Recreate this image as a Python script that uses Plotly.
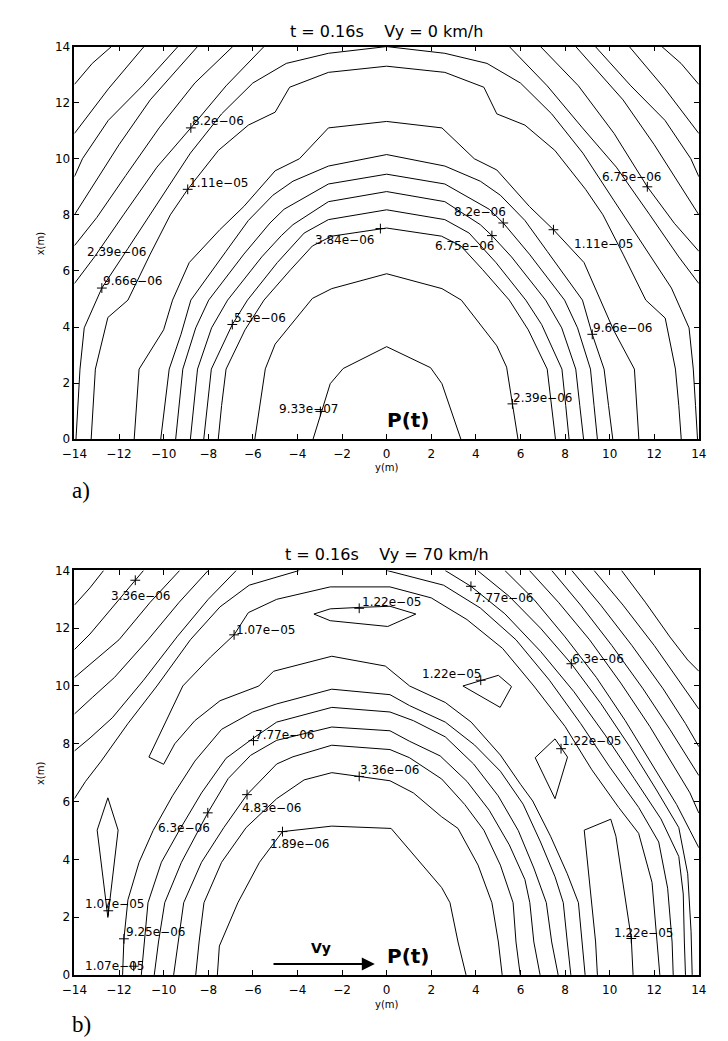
import plotly.graph_objects as go

# ---------------- data (horizontal = y(m), vertical = x(m)) ----------------
x_tick_vals = [-14, -12, -10, -8, -6, -4, -2, 0, 2, 4, 6, 8, 10, 12, 14]
y_tick_vals = [0, 2, 4, 6, 8, 10, 12, 14]

title_top = "t = 0.16s\u00a0\u00a0\u00a0\u00a0Vy = 0 km/h"
title_bot = "t = 0.16s\u00a0\u00a0\u00a0\u00a0Vy = 70 km/h"

# ---- top panel (Vy = 0) contour lines ----
top_a1 = [(-3.30, 0.00), (-2.53, 1.98), (-1.95, 2.52), (0.00, 3.30), (1.97, 2.55), (2.48, 1.98), (3.33, 0.00)]
top_a2 = [(-5.91, 0.00), (-5.44, 2.51), (-5.00, 3.39), (-3.33, 5.02), (-2.46, 5.37), (0.00, 5.90), (2.48, 5.37),
          (3.35, 4.96), (4.94, 3.33), (5.38, 2.57), (5.89, 0.00)]
top_a3 = [(-7.55, 0.00), (-7.40, 1.20), (-7.20, 2.50), (-6.35, 3.90), (-5.50, 4.96), (-4.30, 6.05), (-3.33, 6.89),
          (-2.46, 7.24), (0.00, 7.53), (2.46, 7.24), (3.33, 6.89), (4.30, 6.05), (5.50, 4.96), (6.35, 3.90),
          (7.20, 2.50), (7.40, 1.20), (7.57, 0.00)]
top_a4 = [(-8.20, 0.00), (-8.05, 1.20), (-7.86, 2.50), (-6.92, 4.09), (-6.24, 4.96), (-4.90, 6.30), (-3.70, 7.35),
          (-2.61, 7.83), (0.00, 8.18), (2.61, 7.83), (3.70, 7.35), (4.90, 6.30), (6.24, 4.96), (6.95, 4.09),
          (7.86, 2.50), (8.03, 1.20), (8.18, 0.00)]
top_a5 = [(-8.80, 0.00), (-8.65, 1.20), (-8.48, 2.50), (-7.85, 3.97), (-7.13, 4.96), (-5.60, 6.50), (-4.72, 7.26),
          (-4.20, 7.65), (-2.61, 8.47), (0.00, 8.83), (2.61, 8.47), (4.20, 7.65), (4.72, 7.26), (5.60, 6.50),
          (7.13, 4.96), (7.85, 3.97), (8.48, 2.50), (8.66, 1.20), (8.83, 0.00)]
top_a6 = [(-9.46, 0.00), (-9.30, 1.20), (-9.14, 2.50), (-8.56, 3.97), (-7.98, 4.96), (-6.40, 6.60), (-5.23, 7.71),
          (-4.60, 8.20), (-2.61, 9.10), (0.00, 9.45), (2.61, 9.10), (4.60, 8.20), (5.23, 7.71), (6.40, 6.60),
          (7.98, 4.96), (8.56, 3.97), (9.14, 2.50), (9.30, 1.20), (9.45, 0.00)]
top_a7 = [(-10.13, 0.00), (-9.95, 1.20), (-9.75, 2.50), (-9.22, 3.74), (-8.78, 4.96), (-7.20, 6.70), (-6.20, 7.80),
          (-5.10, 8.70), (-4.20, 9.20), (-2.61, 9.74), (0.00, 10.15), (2.61, 9.74), (4.20, 9.20), (5.10, 8.70),
          (6.20, 7.80), (7.20, 6.70), (8.78, 4.96), (9.22, 3.74), (9.75, 2.50), (9.95, 1.20), (10.14, 0.00)]
top_a8 = [(-11.32, 0.00), (-11.20, 1.20), (-11.10, 2.50), (-10.00, 3.90), (-9.60, 4.96), (-8.85, 6.30),
          (-7.48, 7.47), (-6.40, 8.30), (-5.00, 9.57), (-3.91, 10.00), (-2.61, 11.10), (0.00, 11.33), (2.48, 11.10),
          (3.93, 10.00), (4.94, 9.60), (6.40, 8.30), (7.48, 7.47), (8.85, 6.30), (9.59, 4.96), (10.17, 3.90),
          (11.11, 2.50), (11.20, 1.20), (11.31, 0.00)]
top_a9 = [(-13.25, 0.00), (-13.15, 1.20), (-13.06, 2.50), (-12.50, 4.34), (-11.60, 4.96), (-10.60, 6.60),
          (-9.70, 8.00), (-8.92, 8.91), (-7.54, 10.30), (-6.20, 11.20), (-5.00, 11.66), (-4.35, 12.55),
          (-2.61, 13.08), (0.00, 13.30), (2.61, 13.08), (4.36, 12.55), (4.94, 11.60), (6.20, 11.20), (7.54, 10.30),
          (8.92, 8.91), (9.70, 8.00), (10.60, 6.60), (11.62, 4.96), (12.49, 4.32), (12.95, 2.50), (13.10, 1.20),
          (13.21, 0.00)]
top_a10 = [(-13.93, 0.00), (-13.85, 1.20), (-13.75, 2.50), (-13.56, 3.97), (-12.77, 5.39), (-11.60, 6.80),
           (-10.20, 8.50), (-8.80, 10.20), (-7.40, 11.60), (-6.00, 12.70), (-4.50, 13.40), (-2.61, 13.76),
           (0.00, 14.00), (2.61, 13.76), (4.50, 13.40), (6.00, 12.70), (7.40, 11.60), (8.80, 10.20), (10.20, 8.50),
           (11.60, 6.80), (12.77, 5.39), (13.56, 3.97), (13.75, 2.50), (13.85, 1.20), (13.94, 0.00)]
top_k1 = [(-14.00, 5.55), (-13.10, 6.50), (-11.80, 8.00), (-10.30, 9.70), (-8.78, 11.10), (-7.20, 12.60), (-5.50, 14.00)]
top_k2 = [(-14.00, 6.90), (-13.00, 7.90), (-11.70, 9.40), (-10.20, 11.10), (-8.60, 12.70), (-6.90, 14.00)]
top_k3 = [(-14.00, 8.00), (-13.20, 9.00), (-12.00, 10.50), (-10.60, 12.10), (-9.60, 13.00), (-8.48, 14.00)]
top_k4 = [(-14.00, 9.36), (-13.64, 10.00), (-12.48, 11.37), (-10.95, 12.60), (-9.36, 14.00)]
top_k5 = [(-14.00, 10.90), (-12.48, 12.49), (-10.88, 14.00)]
top_k6 = [(-14.00, 12.65), (-13.20, 13.40), (-12.34, 14.00)]
top_q1 = [(5.50, 14.00), (7.20, 12.60), (8.78, 11.10), (10.30, 9.70), (11.80, 8.00), (13.10, 6.50), (14.00, 5.55)]
top_q2 = [(6.90, 14.00), (8.60, 12.60), (10.20, 10.90), (11.69, 9.00), (12.90, 7.70), (14.00, 6.70)]
top_q3 = [(8.48, 14.00), (9.60, 13.00), (10.60, 12.10), (12.00, 10.50), (13.20, 9.00), (14.00, 8.00)]
top_q4 = [(9.36, 14.00), (10.95, 12.60), (12.48, 11.37), (13.64, 10.00), (14.00, 9.36)]
top_q5 = [(10.88, 14.00), (12.48, 12.49), (14.00, 10.90)]
top_q6 = [(12.34, 14.00), (13.20, 13.40), (14.00, 12.65)]

top_label_text = ["8.2e\u221206", "1.11e\u221205", "6.75e\u221206", "8.2e\u221206", "1.11e\u221205", "2.39e\u221206",
                  "9.66e\u221206", "5.3e\u221206", "3.84e\u221206", "9.33e\u221207", "6.75e\u221206", "9.66e\u221206",
                  "2.39e\u221206"]
top_label_x = [-8.78, -8.92, 9.59, 2.98, 8.35, -13.49, -12.77, -6.89, -3.26, -4.86, 2.11, 9.22, 5.64]
top_label_y = [11.34, 9.12, 9.36, 8.10, 6.97, 6.66, 5.64, 4.32, 7.09, 1.08, 6.89, 3.97, 1.46]
top_plus_x = [-8.78, -8.92, 11.69, 5.23, 7.48, -12.77, -6.92, -0.28, -2.97, 4.72, 9.22, 5.64]
top_plus_y = [11.10, 8.91, 9.00, 7.71, 7.47, 5.39, 4.09, 7.51, 0.99, 7.26, 3.74, 1.26]

# ---- bottom panel (Vy = 70 km/h) contour lines ----
bot_a1 = [(-7.59, 0.00), (-7.50, 1.00), (-6.67, 2.50), (-5.70, 3.90), (-4.67, 4.96), (-2.46, 5.15), (0.20, 5.07),
          (2.47, 3.02), (2.84, 2.50), (3.20, 1.14), (3.56, 0.00)]
bot_a2 = [(-8.56, 0.00), (-8.41, 1.14), (-8.19, 2.50), (-7.40, 3.90), (-6.30, 5.10), (-4.93, 6.10), (-3.70, 6.75),
          (-2.46, 7.00), (-1.23, 6.87), (0.15, 6.72), (1.20, 6.30), (2.47, 5.47), (3.20, 5.07), (4.10, 3.80),
          (4.72, 2.50), (5.01, 1.14), (5.18, 0.00)]
bot_a3 = [(-9.55, 0.00), (-9.36, 1.14), (-9.10, 2.50), (-8.30, 3.90), (-7.30, 5.10), (-6.26, 6.24), (-4.93, 7.30),
          (-4.20, 7.55), (-2.46, 7.95), (0.15, 7.80), (1.02, 7.52), (2.47, 6.78), (3.50, 5.90), (4.36, 5.01),
          (5.10, 3.80), (5.67, 2.50), (5.80, 1.14), (5.99, 0.00)]
bot_a4 = [(-10.42, 0.00), (-10.23, 1.14), (-9.95, 2.50), (-9.20, 3.90), (-8.02, 5.61), (-7.10, 6.80), (-6.10, 7.60),
          (-4.93, 8.12), (-2.46, 8.58), (0.15, 8.45), (1.02, 8.09), (2.40, 7.58), (3.60, 6.70), (4.60, 5.70),
          (5.50, 4.50), (6.20, 3.30), (6.42, 2.50), (6.60, 1.14), (6.88, 0.00)]
bot_a5 = [(-11.00, 0.00), (-10.85, 1.20), (-10.70, 2.50), (-10.10, 3.90), (-9.30, 5.00), (-8.30, 6.30),
          (-7.20, 7.50), (-5.97, 8.20), (-4.93, 8.75), (-2.46, 9.26), (0.15, 9.10), (1.20, 8.80), (2.63, 8.24),
          (3.90, 7.30), (5.00, 6.20), (5.90, 5.00), (6.60, 3.70), (7.16, 2.50), (7.40, 1.14), (7.69, 0.00)]
bot_a6 = [(-11.84, 0.00), (-11.78, 1.25), (-11.60, 2.60), (-11.10, 3.90), (-10.47, 5.00), (-9.60, 6.20),
          (-8.60, 7.40), (-7.40, 8.50), (-6.00, 9.10), (-4.93, 9.38), (-2.46, 9.89), (0.15, 9.70), (1.03, 9.32),
          (2.63, 8.75), (3.94, 7.96), (5.10, 7.05), (6.12, 5.91), (6.90, 4.60), (7.55, 3.40), (7.92, 2.50),
          (8.10, 1.14), (8.26, 0.00)]
bot_a7 = [(8.90, 0.00), (8.75, 1.14), (8.60, 2.50), (8.10, 3.50), (7.35, 4.80), (6.55, 6.02), (6.00, 6.60),
          (5.10, 7.61), (3.79, 8.75), (2.63, 9.43), (1.03, 10.00), (-0.06, 10.69), (-2.46, 11.03), (-5.07, 10.51),
          (-5.73, 10.00), (-7.47, 9.49), (-8.60, 8.80), (-9.50, 8.00), (-10.00, 7.29), (-10.66, 7.54),
          (-10.00, 8.63), (-9.14, 10.00), (-7.90, 11.00), (-6.84, 11.77), (-6.20, 12.54), (-4.93, 13.00),
          (-2.53, 13.43), (0.15, 13.43), (2.00, 13.05), (3.60, 12.30), (5.20, 11.30), (6.60, 10.00), (8.00, 8.60),
          (9.20, 7.10), (10.40, 5.80), (11.30, 4.90), (11.90, 3.20), (12.10, 1.50), (12.25, 0.00)]
bot_tongue = [(9.45, 0.00), (9.37, 1.14), (8.86, 5.01), (10.05, 5.39), (10.28, 4.80), (10.97, 1.26), (11.05, 0.00)]
bot_loop_top = [(-3.26, 12.49), (-2.53, 12.67), (-1.23, 12.72), (0.15, 12.76), (1.31, 12.49), (0.05, 12.06),
                (-2.53, 12.26), (-3.26, 12.49)]
bot_loop_mid = [(3.42, 10.00), (5.01, 10.37), (5.60, 9.98), (5.09, 9.26), (3.42, 10.00)]
bot_loop_right = [(6.66, 7.52), (7.55, 8.17), (8.11, 7.54), (7.55, 6.10), (6.66, 7.52)]
bot_loop_left = [(-12.50, 6.13), (-12.04, 5.01), (-12.50, 1.99), (-12.98, 5.01), (-12.50, 6.13)]
bot_k1 = [(-3.91, 14.00), (-4.93, 13.77), (-6.16, 13.49), (-7.47, 12.74), (-8.80, 11.60), (-10.30, 10.00),
          (-11.60, 8.70), (-12.80, 7.40), (-13.50, 6.70), (-14.00, 6.10)]
bot_k2 = [(-6.74, 14.00), (-8.00, 13.00), (-9.40, 11.70), (-10.90, 10.20), (-12.30, 8.90), (-13.30, 8.20),
          (-14.00, 7.75)]
bot_k3 = [(-8.00, 14.00), (-9.30, 12.90), (-10.70, 11.60), (-12.20, 10.30), (-13.20, 9.60), (-14.00, 9.03)]
bot_k4 = [(-9.28, 14.00), (-10.60, 12.90), (-12.00, 11.60), (-13.20, 10.80), (-14.00, 10.29)]
bot_k5 = [(-10.90, 14.00), (-11.27, 13.66), (-12.50, 12.50), (-13.30, 11.80), (-14.00, 11.26)]
bot_k6 = [(-12.69, 14.00), (-13.30, 13.40), (-14.00, 12.80)]
bot_r0 = [(0.00, 14.00), (2.55, 13.49), (4.20, 12.70), (5.80, 11.60), (7.30, 10.20), (8.70, 8.70), (10.00, 7.20),
          (11.30, 5.80), (12.20, 4.60), (12.60, 3.00), (12.80, 1.14), (12.85, 0.00)]
bot_r1 = [(2.62, 14.00), (3.78, 13.45), (5.30, 12.50), (6.90, 11.20), (8.40, 9.80), (9.80, 8.30), (11.10, 6.80),
          (12.30, 5.40), (13.10, 4.10), (13.30, 2.80), (13.35, 1.14), (13.40, 0.00)]
bot_r2 = [(4.07, 14.00), (5.50, 13.10), (6.90, 12.00), (8.28, 10.77), (9.60, 9.40), (10.90, 7.90), (12.10, 6.40),
          (13.10, 5.10), (13.50, 3.50), (13.65, 1.50), (13.70, 0.00)]
bot_r3 = [(5.30, 14.00), (6.60, 13.00), (8.00, 11.70), (9.40, 10.30), (10.70, 8.80), (11.90, 7.30), (13.00, 5.90),
          (13.60, 5.00), (14.00, 4.40)]
bot_r4 = [(6.40, 14.00), (7.70, 12.90), (9.10, 11.60), (10.50, 10.10), (11.80, 8.60), (12.90, 7.20), (13.60, 6.30),
          (14.00, 5.60)]
bot_r5 = [(7.40, 14.00), (8.70, 12.80), (10.10, 11.40), (11.50, 9.90), (12.70, 8.50), (13.50, 7.50), (14.00, 6.90)]
bot_r6 = [(8.30, 14.00), (9.60, 12.80), (11.00, 11.40), (12.40, 9.90), (13.40, 8.70), (14.00, 7.90)]
bot_r7 = [(9.30, 14.00), (10.60, 12.80), (12.00, 11.40), (13.20, 10.10), (14.00, 9.20)]
bot_r8 = [(10.53, 14.00), (11.60, 12.90), (12.70, 11.70), (13.50, 10.90), (14.00, 10.51)]

bot_label_text = ["3.36e\u221206", "1.22e\u221205", "1.07e\u221205", "7.77e\u221206", "6.3e\u221206",
                  "1.22e\u221205", "1.22e\u221205", "7.77e\u221206", "3.36e\u221206", "4.83e\u221206",
                  "6.3e\u221206", "1.89e\u221206", "1.07e\u221205", "9.25e\u221206", "1.07e\u221205",
                  "1.22e\u221205"]
bot_label_x = [-12.40, -1.16, -6.82, 3.85, 8.28, 1.53, 7.84, -5.94, -1.23, -6.53, -10.30, -5.29, -13.56, -11.75,
               -13.56, 10.17]
bot_label_y = [13.11, 12.91, 11.94, 13.05, 10.95, 10.42, 8.09, 8.32, 7.10, 5.79, 5.10, 4.52, 2.47, 1.48, 0.30, 1.46]
bot_plus_x = [-11.27, -1.23, -6.84, 3.78, 8.28, 4.22, 7.82, -5.97, -1.23, -6.26, -8.02, -4.67, -12.48, -11.78,
              -11.34, 10.97]
bot_plus_y = [13.66, 12.69, 11.77, 13.45, 10.77, 10.20, 7.83, 8.11, 6.87, 6.24, 5.61, 4.96, 2.22, 1.25, 0.30, 1.26]

# annotation marks
ptext_pos_top = (1.00, 0.67)
ptext_pos_bot = (0.98, 0.67)
vy_text_pos = (-2.96, 0.92)
arrow_tail = (-5.14, 0.38)
arrow_head = (-0.53, 0.38)

top_lines = [top_a1, top_a2, top_a3, top_a4, top_a5, top_a6, top_a7, top_a8, top_a9, top_a10,
             top_k1, top_k2, top_k3, top_k4, top_k5, top_k6, top_q1, top_q2, top_q3, top_q4, top_q5, top_q6]
bot_lines = [bot_a1, bot_a2, bot_a3, bot_a4, bot_a5, bot_a6, bot_a7, bot_tongue, bot_loop_top, bot_loop_mid,
             bot_loop_right, bot_loop_left, bot_k1, bot_k2, bot_k3, bot_k4, bot_k5, bot_k6,
             bot_r0, bot_r1, bot_r2, bot_r3, bot_r4, bot_r5, bot_r6, bot_r7, bot_r8]

# ---------------- figure ----------------
W, H = 728, 1041
SANS = "DejaVu Sans"
fig = go.Figure()


def add_lines(lines, xa, ya):
    for pts in lines:
        fig.add_trace(go.Scatter(x=[p[0] for p in pts], y=[p[1] for p in pts], mode="lines",
                                 line=dict(color="black", width=1), xaxis=xa, yaxis=ya,
                                 showlegend=False, hoverinfo="skip"))


add_lines(top_lines, "x", "y")
add_lines(bot_lines, "x2", "y2")

for px, py, xa, ya in [(top_plus_x, top_plus_y, "x", "y"), (bot_plus_x, bot_plus_y, "x2", "y2")]:
    fig.add_trace(go.Scatter(x=px, y=py, mode="markers", xaxis=xa, yaxis=ya, showlegend=False,
                             hoverinfo="skip",
                             marker=dict(symbol="cross-thin", size=7, color="black",
                                         line=dict(width=1, color="black"))))

annotations = []
for txt, lx, ly in zip(top_label_text, top_label_x, top_label_y):
    annotations.append(dict(text=txt, x=lx, y=ly, xref="x", yref="y", xanchor="left", yanchor="middle",
                            showarrow=False, borderpad=0, font=dict(family=SANS, size=12, color="black")))
for txt, lx, ly in zip(bot_label_text, bot_label_x, bot_label_y):
    annotations.append(dict(text=txt, x=lx, y=ly, xref="x2", yref="y2", xanchor="left", yanchor="middle",
                            showarrow=False, borderpad=0, font=dict(family=SANS, size=12, color="black")))

annotations.append(dict(text="<b>P(t)</b>", x=ptext_pos_top[0], y=ptext_pos_top[1], xref="x", yref="y",
                        xanchor="center", yanchor="middle",
                        showarrow=False, font=dict(family=SANS, size=20, color="black")))
annotations.append(dict(text="<b>P(t)</b>", x=ptext_pos_bot[0], y=ptext_pos_bot[1], xref="x2", yref="y2",
                        xanchor="center", yanchor="middle",
                        showarrow=False, font=dict(family=SANS, size=20, color="black")))
annotations.append(dict(text="<b>Vy</b>", x=vy_text_pos[0], y=vy_text_pos[1], xref="x2", yref="y2",
                        xanchor="center", yanchor="middle",
                        showarrow=False, font=dict(family=SANS, size=14, color="black")))
annotations.append(dict(text="", x=arrow_head[0], y=arrow_head[1], ax=arrow_tail[0], ay=arrow_tail[1],
                        xref="x2", yref="y2", axref="x2", ayref="y2", showarrow=True, arrowhead=2,
                        arrowsize=1.3, arrowwidth=2, arrowcolor="black", standoff=0, startstandoff=0))


def px_x(v):
    return v / W


def px_y(v):
    return 1 - v / H


def page_text(txt, x, y, size, family=SANS, angle=0):
    return dict(text=txt, x=px_x(x), y=px_y(y), xref="paper", yref="paper", showarrow=False,
                xanchor="center", yanchor="middle", textangle=angle,
                font=dict(family=family, size=size, color="black"))


annotations += [
    page_text(title_top, 376.5, 17, 16),
    page_text(title_bot, 376.5, 547, 16),
    page_text("y(m)", 376.5, 459, 10),
    page_text("y(m)", 376.5, 1003, 10),
    page_text("x(m)", 20, 231, 10, angle=-90),
    page_text("x(m)", 20, 768, 10, angle=-90),
    page_text("a)", 62, 482, 23, family="Liberation Serif"),
    page_text("b)", 62, 1023, 23, family="Liberation Serif"),
]

xdom = [55 / W, 698 / W]
axis_common = dict(showline=True, linecolor="black", linewidth=1.5, mirror="ticks", ticks="inside", ticklen=5,
                   tickcolor="black", tickwidth=1, showgrid=False, zeroline=False,
                   tickfont=dict(family=SANS, size=12, color="black"), fixedrange=True)

fig.update_layout(
    width=W, height=H, autosize=False, margin=dict(l=0, r=0, t=0, b=0),
    paper_bgcolor="white", plot_bgcolor="white", showlegend=False,
    xaxis=dict(domain=xdom, range=[-14, 14], tickvals=x_tick_vals, anchor="y", ticklabelstandoff=3,
               **axis_common),
    yaxis=dict(domain=[1 - 430 / H, 1 - 32 / H], range=[0, 14], tickvals=y_tick_vals, anchor="x", **axis_common),
    xaxis2=dict(domain=xdom, range=[-14, 14], tickvals=x_tick_vals, anchor="y2", ticklabelstandoff=3,
                **axis_common),
    yaxis2=dict(domain=[1 - 973 / H, 1 - 563 / H], range=[0, 14], tickvals=y_tick_vals, anchor="x2",
                **axis_common),
    annotations=annotations,
)

fig.write_html("out.html")
